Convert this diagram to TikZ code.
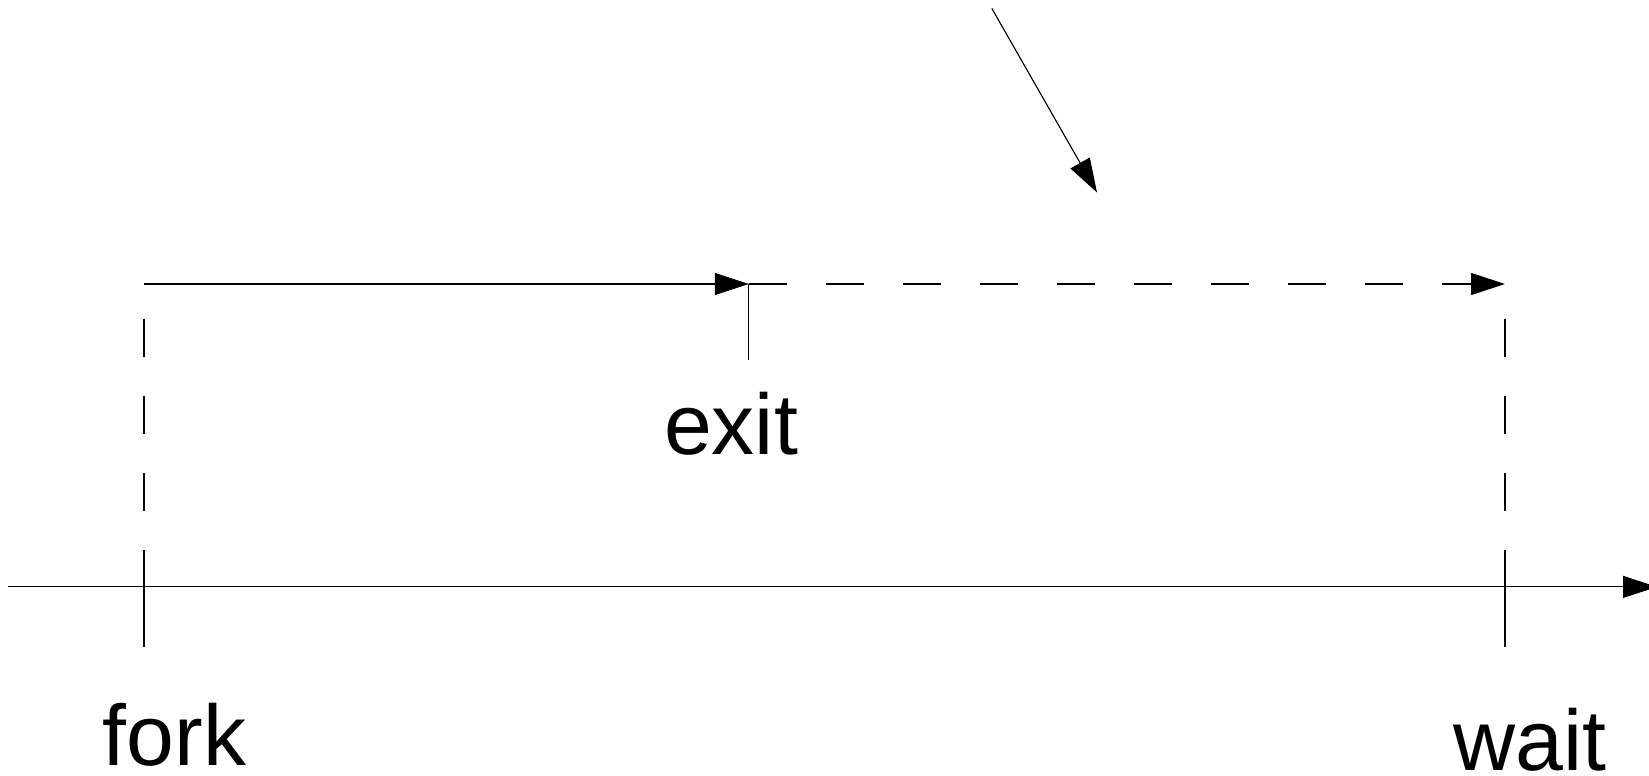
\documentclass[tikz,border=0pt]{standalone}
\usepackage{fontspec}
\setmainfont{Liberation Sans}
\usetikzlibrary{arrows.meta,positioning}

\begin{document}
\begin{tikzpicture}[
        x=1pt, y=-1pt,
        >={Triangle[length=34pt,width=22pt]},
        every node/.style={font=\fontsize{86}{100}\selectfont, inner sep=0pt, text depth=0pt, anchor=base},
        arrow/.style={->, line width=1.1pt},
        tick/.style={line width=1.1pt},
        guide/.style={line width=1.1pt, dash pattern=on 38pt off 39pt}
    ]
    \useasboundingbox (0,0) rectangle (1649,776);

    \coordinate (origin) at (8.4,586.9);
    \coordinate (later)  at (1657,586.9);
    \coordinate (fork)   at (144,586.9);
    \coordinate (wait)   at (1505,586.9);
    \coordinate (run)    at (144,284);
    \coordinate (exit)   at (748.8,284);
    \coordinate (reap)   at (1505,284);
    \coordinate (signal) at (991.8,8.4);
    \coordinate (hit)    at (1097,192.5);

    \draw[arrow] (origin) -- (later);

    \draw[arrow] (run) -- (exit);
    \draw[arrow, dash pattern=on 38pt off 39pt] (exit) -- (reap);
    \draw[tick] (exit) -- ++(0,75.7);

    \draw[guide] (fork |- 0,318.7) -- (fork);
    \draw[guide] (wait |- 0,318.7) -- (wait);
    \draw[tick] (fork) -- ++(0,59.9);
    \draw[tick] (wait) -- ++(0,59.9);

    \draw[arrow] (signal) -- (hit);

    \node (exitlbl) at (731,454.3) {exit};
    \node (forklbl) at (174.6,765.6) {fork};
    \node (waitlbl) at (1530,770) {wait};

\end{tikzpicture}
\end{document}
